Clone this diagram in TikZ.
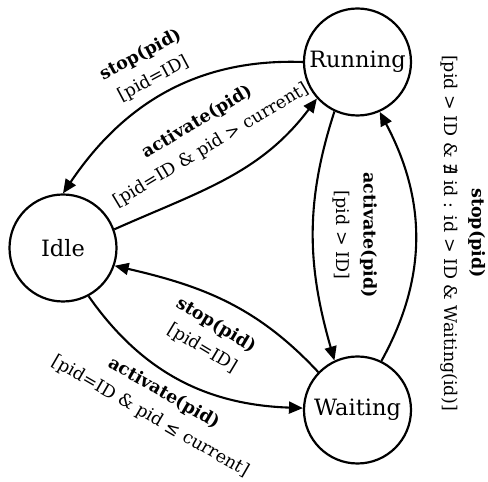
\documentclass[tikz,border=0pt]{standalone}
\usepackage{fontspec}
\setmainfont{DejaVu Serif}
\newfontfamily\symfont{DejaVu Sans}
\usetikzlibrary{positioning, arrows.meta}

\begin{document}
\begin{tikzpicture}[x=1pt, y=1pt,
  state/.style={draw, circle, line width=2.2pt, minimum size=107pt, inner sep=0pt,
                font=\fontsize{22.5}{26}\selectfont},
  trans/.style={line width=2.1pt, -{Triangle[length=14pt,width=12pt]}},
  guard/.style={align=center, inner sep=0pt, font=\fontsize{17.5}{27}\selectfont},
]
  \useasboundingbox (0,0) rectangle (488,482);
  % states
  \node[state] (run) at (357.5,420) {Running};
  \node[state] (idle) at (63,234) {Idle};
  \node[state] (wait) at (357.5,72) {Waiting};

  % transitions
  \draw[trans] (run.180) to[out=178, in=56] (idle.90);
  \draw[trans] (idle.20) to[out=24, in=233] (run.222);
  \draw[trans] (run.245) to[out=252, in=106] (wait.115);
  \draw[trans] (wait.64) to[out=61, in=298] (run.294);
  \draw[trans] (wait.136) to[out=133, in=347] (idle.341);
  \draw[trans] (idle.298) to[out=305, in=178] (wait.178);

  % guards
  \node[guard, rotate=28] (g1) at (147,415) {\textbf{stop(pid)}\\{}[pid=ID]};
  \node[guard, rotate=31] (g2) at (204,348) {\textbf{activate(pid)}\\{}[pid=ID \& pid > current]};
  \node[guard, rotate=-90] (g3) at (355,247) {\textbf{activate(pid)}\\{}[pid > ID]};
  \node[guard, rotate=-90] (g4) at (463,249) {\textbf{stop(pid)}\\{}[pid > ID \& {\symfont ∄} id : id > ID \& Waiting(id)]};
  \node[guard, rotate=-31] (g5) at (209,145) {\textbf{stop(pid)}\\{}[pid=ID]};
  \node[guard, rotate=-30] (g6) at (157,77) {\textbf{activate(pid)}\\{}[pid=ID \& pid {\symfont ≤} current]};
\end{tikzpicture}
\end{document}
